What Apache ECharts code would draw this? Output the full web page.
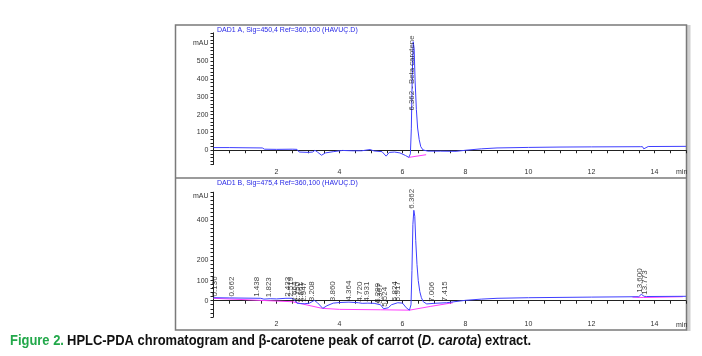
<!DOCTYPE html>
<html><head><meta charset="utf-8">
<script src="https://cdn.jsdelivr.net/npm/echarts@6/dist/echarts.min.js"></script>
<style>html,body{margin:0;padding:0;background:#fff}#c{width:702px;height:356px}</style>
</head><body><div id="c"></div>
<script>
// ---- data ----
const xTicks = [2, 4, 6, 8, 10, 12, 14];
const topTimes  = [0,0.5,1.0,1.55,1.62,2.0,2.5,2.65,2.72,3.0,3.15,3.22,3.3,3.43,3.55,3.8,4.1,4.4,4.7,4.97,5.1,5.35,5.48,5.58,5.75,5.92,6.1,6.2,6.25,6.28,6.31,6.34,6.37,6.40,6.44,6.48,6.53,6.58,6.65,6.8,7.2,7.7,8.0,8.5,9.0,10.0,11.0,12.0,13.55,13.62,13.66,13.72,13.8,15.0];
const topValues = [15,15,14,13,6,5,6,5,-10,-12,-10,0,-10,-28,-15,-8,-1,-3,-3,4,-4,-8,-33,-12,-10,-15,-30,-40,-20,120,420,610,570,390,230,125,60,20,2,-5,-5,-6,0,8,13,16,18,19,20,20,8,18,21,22];
const topBaseTimes  = [6.2, 6.75];
const topBaseValues = [-40, -25];
const topPeakTimes = [6.362];
const topPeakLabelBase = [215];
const topPeakNames = ['6.362 - Beta carotene'];

const botTimes  = [0,0.5,1.0,1.5,1.6,1.8,2.0,2.3,2.5,2.6,2.65,2.75,2.9,3.05,3.2,3.3,3.47,3.6,3.8,4.0,4.3,4.6,4.72,4.9,5.1,5.3,5.4,5.55,5.65,5.85,6.0,6.12,6.22,6.27,6.30,6.33,6.36,6.39,6.42,6.46,6.5,6.55,6.6,6.66,6.77,7.0,7.4,8.0,8.5,9.0,10.0,12.0,13.5,13.58,13.62,13.67,13.75,15.0];
const botValues = [15,14,13,12,8,10,9,12,12,0,-12,-14,-15,-12,2,-10,-38,-25,-12,-9,-7,-10,-13,-12,-13,-20,-40,-35,-20,-10,-12,-35,-47,-20,150,380,450,420,300,180,100,45,15,-5,-16,-13,-10,2,8,12,15,18,20,32,28,22,21,22];
const botBaseTimes  = [0, 2.5, 3.45, 4.0, 5.3, 6.22, 6.9, 7.6];
const botBaseValues = [12, -5, -38, -43, -45, -47, -28, -10];
const botBase2Times  = [13.3, 13.65, 14.9];
const botBase2Values = [18, 16, 20];
const botPeakTimes = [0.136,0.662,1.438,1.823,2.433,2.519,2.664,2.750,2.861,2.947,3.208,3.860,4.364,4.720,4.931,5.299,5.367,5.524,5.824,5.917,6.362,7.006,7.415,13.600,13.773];
const botPeakLabelBase = [14,13,12,10,12,12,-12,-14,-15,-13,-10,-10,-7,-12,-12,-18,-22,-38,-10,-10,450,-13,-10,32,22];
const botPeakNames = ['0.136','0.662','1.438','1.823','2.433','2.519','2.664','2.750','2.861','2.947','3.208','3.860','4.364','4.720','4.931','5.299','5.367','5.524','5.824','5.917','6.362','7.006','7.415','13.600','13.773'];

// ---- build ----
const zip = (a, b) => a.map((t, i) => [t, b[i]]);
const zip3 = (a, b, c) => a.map((t, i) => [t, b[i], c[i]]);
const BLUE = '#3f3fff', PINK = '#ff3cff', AX = '#222';
const LF = 'Liberation Sans, Arial, sans-serif';

function xAxis(gi) {
  return {
    type: 'value', gridIndex: gi, min: 0, max: 15, interval: 0.5,
    axisLine: { show: true, lineStyle: { color: AX, width: 1 } },
    axisTick: { show: true, length: 3, lineStyle: { color: AX } },
    splitLine: { show: false },
    axisLabel: { fontSize: 7, fontFamily: LF, color: '#333', margin: 4,
      formatter: v => (xTicks.indexOf(v) >= 0 ? String(v) : '') }
  };
}
function yAxis(gi, min, max, hide, mauAt) {
  return {
    type: 'value', gridIndex: gi, min: min, max: max, interval: 20,
    axisLine: { show: true, lineStyle: { color: AX, width: 1 } },
    axisTick: { show: true, length: 3, lineStyle: { color: AX } },
    splitLine: { show: false },
    axisLabel: { fontSize: 7, fontFamily: LF, color: '#333', margin: 5,
      formatter: v => {
        if (v === mauAt) return 'mAU';
        if (v % 100 === 0 && v >= 0 && hide.indexOf(v) < 0) return String(v);
        return '';
      } }
  };
}
function line(gi, data, color, w) {
  return { type: 'line', xAxisIndex: gi, yAxisIndex: gi, data: data, showSymbol: false,
    symbol: 'none', lineStyle: { color: color, width: w || 1 }, z: 3, animation: false };
}
function labels(gi, data, fs) {
  return { type: 'scatter', xAxisIndex: gi, yAxisIndex: gi, data: data, symbolSize: 1,
    itemStyle: { color: 'rgba(0,0,0,0)' }, z: 5, animation: false,
    label: { show: true, formatter: p => p.data[2], rotate: 90, position: [0, 0],
      align: 'left', verticalAlign: 'middle', offset: [1, -2],
      fontSize: fs, fontFamily: LF, color: '#111' } };
}

const CF = "'Liberation Sans Narrow', 'Liberation Sans', Arial, sans-serif";
const chart = echarts.init(document.getElementById('c'), null, { renderer: 'canvas' });
chart.setOption({
  animation: false,
  backgroundColor: '#fff',
  grid: [
    { left: 213.5, right: 16, top: 32.8, bottom: 191.5 },
    { left: 213.5, right: 16, top: 192.2, bottom: 39.2 }
  ],
  xAxis: [xAxis(0), xAxis(1)],
  yAxis: [yAxis(0, -80, 660, [], 600), yAxis(1, -80, 540, [300, 500], 520)],
  series: [
    line(0, zip(topBaseTimes, topBaseValues), PINK),
    line(0, zip(topTimes, topValues), BLUE),
    labels(0, zip3(topPeakTimes, topPeakLabelBase, topPeakNames), 7.8),
    line(1, zip(botBaseTimes, botBaseValues), PINK),
    line(1, zip(botBase2Times, botBase2Values), PINK),
    line(1, zip(botTimes, botValues), BLUE),
    labels(1, zip3(botPeakTimes, botPeakLabelBase, botPeakNames), 8)
  ],
  graphic: [
    { type: 'rect', shape: { x: 686.5, y: 25, width: 4, height: 306 }, style: { fill: '#cfcfcf' }, silent: true },
    { type: 'rect', shape: { x: 175.5, y: 25, width: 511, height: 305 }, style: { fill: 'none', stroke: '#7a7a7a', lineWidth: 1.5 }, silent: true },
    { type: 'line', shape: { x1: 175.5, y1: 178, x2: 686.5, y2: 178 }, style: { stroke: '#7a7a7a', lineWidth: 1.5 }, silent: true },
    { type: 'text', x: 217, y: 30, style: { text: 'DAD1 A, Sig=450,4 Ref=360,100 (HAVUÇ.D)', fontSize: 7, fontFamily: LF, fill: '#2828e6', verticalAlign: 'middle' } },
    { type: 'text', x: 217, y: 183.5, style: { text: 'DAD1 B, Sig=475,4 Ref=360,100 (HAVUÇ.D)', fontSize: 7, fontFamily: LF, fill: '#2828e6', verticalAlign: 'middle' } },
    { type: 'text', x: 676, y: 172, style: { text: 'min', fontSize: 7, fontFamily: LF, fill: '#333', verticalAlign: 'middle' } },
    { type: 'text', x: 676, y: 325, style: { text: 'min', fontSize: 7, fontFamily: LF, fill: '#333', verticalAlign: 'middle' } },
    { type: 'text', x: 10, y: 341, scaleX: 0.925, style: {
        text: '{g|Figure 2.} {b|HPLC-PDA chromatogram and β-carotene peak of carrot (}{i|D. carota}{b|) extract.}',
        verticalAlign: 'middle',
        rich: {
          g: { fontSize: 14, fontWeight: 'bold', fontFamily: CF, fill: '#22a84a' },
          b: { fontSize: 14, fontWeight: 'bold', fontFamily: CF, fill: '#111' },
          i: { fontSize: 14, fontWeight: 'bold', fontStyle: 'italic', fontFamily: CF, fill: '#111' }
        } } }
  ]
});
</script></body></html>
